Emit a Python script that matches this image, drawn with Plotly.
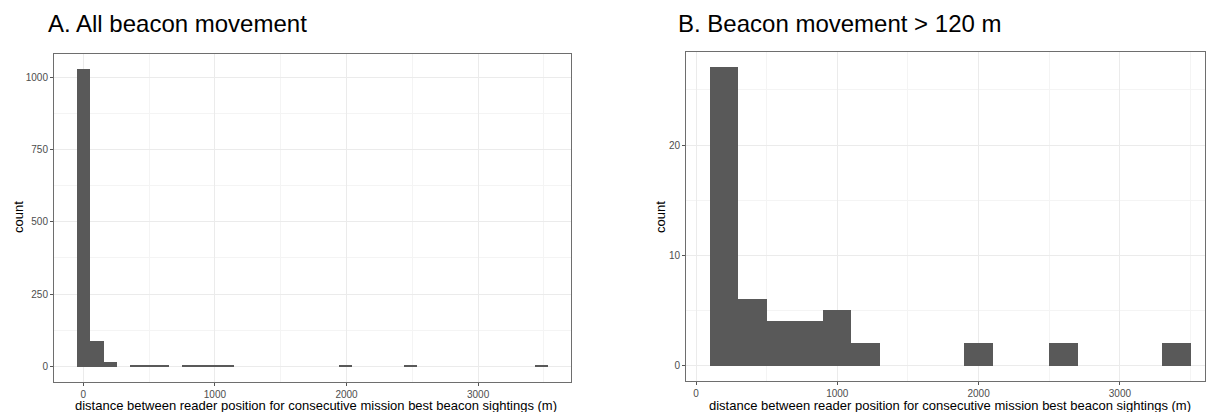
import plotly.graph_objects as go

# ---------------- data ----------------
# Panel A: all beacon movement, histogram bins (start edge, bin width ~99.3 m)
a_bin_start = -45.0
a_bin_width = 99.3
a_counts = [1034, 88, 17, 0, 2, 4, 2, 0, 2, 3, 3, 3, 0, 0, 0, 0, 0, 0, 0, 0,
            2, 0, 0, 0, 0, 2, 0, 0, 0, 0, 0, 0, 0, 0, 0, 2]

# Panel B: movement > 120 m, bins of 200 m starting at 100 m
b_bin_start = 100.0
b_bin_width = 200.0
b_counts = [27, 6, 4, 4, 5, 2, 0, 0, 0, 2, 0, 0, 2, 0, 0, 0, 2]

a_yticks = [0, 250, 500, 750, 1000]
b_yticks = [0, 10, 20]
x_ticks = [0, 1000, 2000, 3000]

title_a = "A. All beacon movement"
title_b = "B. Beacon movement > 120 m"
x_title = "distance between reader position for consecutive mission best beacon sightings (m)"
y_title = "count"

# ---------------- figure ----------------
W, H = 1206, 412
BAR = "#595959"
GRID = "#EBEBEB"
MINOR = "#F4F4F4"
FONT = "Liberation Sans, Arial, sans-serif"

def centers(start, width, n):
    return [start + width * (i + 0.5) for i in range(n)]

def nonzero(start, width, counts):
    xs, ys = [], []
    for x, c in zip(centers(start, width, len(counts)), counts):
        if c > 0:
            xs.append(x)
            ys.append(c)
    return xs, ys

ax, ay = nonzero(a_bin_start, a_bin_width, a_counts)
bx, by = nonzero(b_bin_start, b_bin_width, b_counts)

fig = go.Figure()
fig.add_trace(go.Bar(
    x=ax, y=ay, width=a_bin_width, marker=dict(color=BAR, line=dict(width=0)),
    xaxis="x", yaxis="y", showlegend=False))
fig.add_trace(go.Bar(
    x=bx, y=by, width=b_bin_width, marker=dict(color=BAR, line=dict(width=0)),
    xaxis="x2", yaxis="y2", showlegend=False))

def px_x(p):
    return p / W

def px_y(p):
    return 1 - p / H

axis_common = dict(
    showline=True, mirror=True, linecolor="#6e6e6e", linewidth=1,
    ticks="outside", ticklen=3, tickcolor="#555555", tickwidth=1,
    showgrid=True, gridcolor=GRID, gridwidth=1, zeroline=False,
    tickfont=dict(family=FONT, size=10, color="#4D4D4D"),
)

fig.update_layout(
    width=W, height=H,
    margin=dict(l=0, r=0, t=0, b=0),
    paper_bgcolor="white", plot_bgcolor="white",
    bargap=0,
    xaxis=dict(domain=[px_x(54), px_x(571)], range=[-223, 3706],
               tickvals=x_ticks, anchor="y",
               minor=dict(tickvals=[500, 1500, 2500, 3500], showgrid=True,
                          gridcolor=MINOR, ticks=""),
               **axis_common),
    yaxis=dict(domain=[px_y(381.7), px_y(53.5)], range=[-54.5, 1085],
               tickvals=a_yticks, anchor="x",
               minor=dict(tickvals=[125, 375, 625, 875], showgrid=True,
                          gridcolor=MINOR, ticks=""),
               **axis_common),
    xaxis2=dict(domain=[px_x(686), px_x(1205)], range=[-70.8, 3602],
                tickvals=x_ticks, anchor="y2",
                minor=dict(tickvals=[500, 1500, 2500, 3500], showgrid=True,
                           gridcolor=MINOR, ticks=""),
                **axis_common),
    yaxis2=dict(domain=[px_y(380.7), px_y(52.3)], range=[-1.35, 28.4],
                tickvals=b_yticks, anchor="x2",
                minor=dict(tickvals=[5, 15, 25], showgrid=True,
                           gridcolor=MINOR, ticks=""),
                **axis_common),
)

ann = []
ann.append(dict(text=title_a, x=px_x(46), y=px_y(24), xref="paper", yref="paper",
                xanchor="left", yanchor="middle", showarrow=False,
                font=dict(family=FONT, size=24, color="black")))
ann.append(dict(text=title_b, x=px_x(676), y=px_y(24), xref="paper", yref="paper",
                xanchor="left", yanchor="middle", showarrow=False,
                font=dict(family=FONT, size=24, color="black")))
ann.append(dict(text=x_title, x=px_x(316), y=px_y(405), xref="paper", yref="paper",
                xanchor="center", yanchor="middle", showarrow=False,
                font=dict(family=FONT, size=13, color="black")))
ann.append(dict(text=x_title, x=px_x(950), y=px_y(405), xref="paper", yref="paper",
                xanchor="center", yanchor="middle", showarrow=False,
                font=dict(family=FONT, size=13, color="black")))
ann.append(dict(text=y_title, x=px_x(18), y=px_y(217), xref="paper", yref="paper",
                xanchor="center", yanchor="middle", showarrow=False, textangle=-90,
                font=dict(family=FONT, size=13, color="black")))
ann.append(dict(text=y_title, x=px_x(660), y=px_y(217), xref="paper", yref="paper",
                xanchor="center", yanchor="middle", showarrow=False, textangle=-90,
                font=dict(family=FONT, size=13, color="black")))
fig.update_layout(annotations=ann)

fig.write_html("out.html",
               config={"displayModeBar": False},
               post_script="document.body.style.margin='0';document.body.style.overflow='hidden';")
